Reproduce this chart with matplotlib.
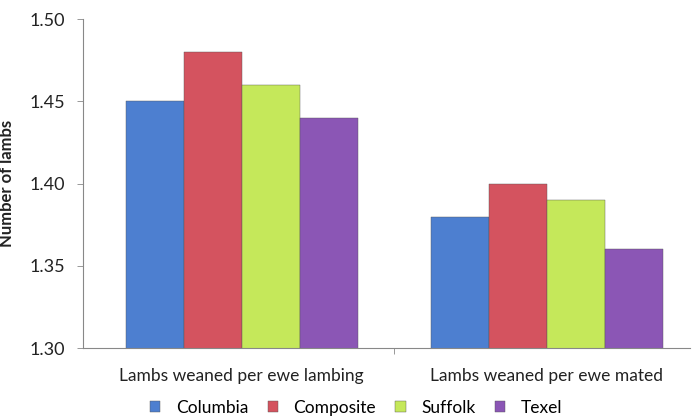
import matplotlib
matplotlib.use("Agg")
import matplotlib.pyplot as plt
import numpy as np

plt.rcParams['font.family'] = ['Lato', 'DejaVu Sans']

# Lambs weaned by breed
categories = ["Lambs weaned per ewe lambing", "Lambs weaned per ewe mated"]
breeds = ["Columbia", "Composite", "Suffolk", "Texel"]
columbia = [1.45, 1.38]
composite = [1.48, 1.40]
suffolk = [1.46, 1.39]
texel = [1.44, 1.36]
yticks = [1.30, 1.35, 1.40, 1.45, 1.50]

series = [columbia, composite, suffolk, texel]
colors = ["#4d7fd0", "#d4535f", "#c5e85a", "#8b56b5"]

fig = plt.figure(figsize=(6.97, 4.17), dpi=100)
ax = fig.add_axes([0.119, 0.165, 0.871, 0.789])

x = np.arange(len(categories))
w = 0.19
for i, (vals, col, name) in enumerate(zip(series, colors, breeds)):
    ax.bar(x + (i - 1.5) * w, vals, width=w, color=col, label=name,
           edgecolor="#555555", linewidth=0.3)

ax.set_ylim(1.30, 1.50)
ax.set_xlim(-0.52, 1.47)
ax.set_yticks(yticks)
ax.set_yticklabels([f"{v:.2f}" for v in yticks], fontsize=13, color="#222222")
ax.set_xticks(x)
ax.set_xticklabels(categories, fontsize=12.5, color="#222222")
ax.tick_params(axis="x", length=0, pad=14)
ax.tick_params(axis="y", length=4, width=0.6, color="#888888", pad=9)
ax.set_xticks([0.5], minor=True)
ax.tick_params(axis="x", which="minor", length=4, color="#888888")

for s in ["top", "right"]:
    ax.spines[s].set_visible(False)
for s in ["left", "bottom"]:
    ax.spines[s].set_color("#888888")
    ax.spines[s].set_linewidth(0.8)
    ax.spines[s].set_linestyle((0, (3, 1)))

ax.set_ylabel("Number of lambs", fontsize=12, fontweight="bold",
              color="#222222", labelpad=10)

ax.legend(loc="upper center", bbox_to_anchor=(0.45, -0.11), ncol=4,
          frameon=False, fontsize=12.5, handlelength=0.6, handleheight=0.6,
          columnspacing=1.1, handletextpad=0.9)

fig.savefig("out.png", dpi=100)
